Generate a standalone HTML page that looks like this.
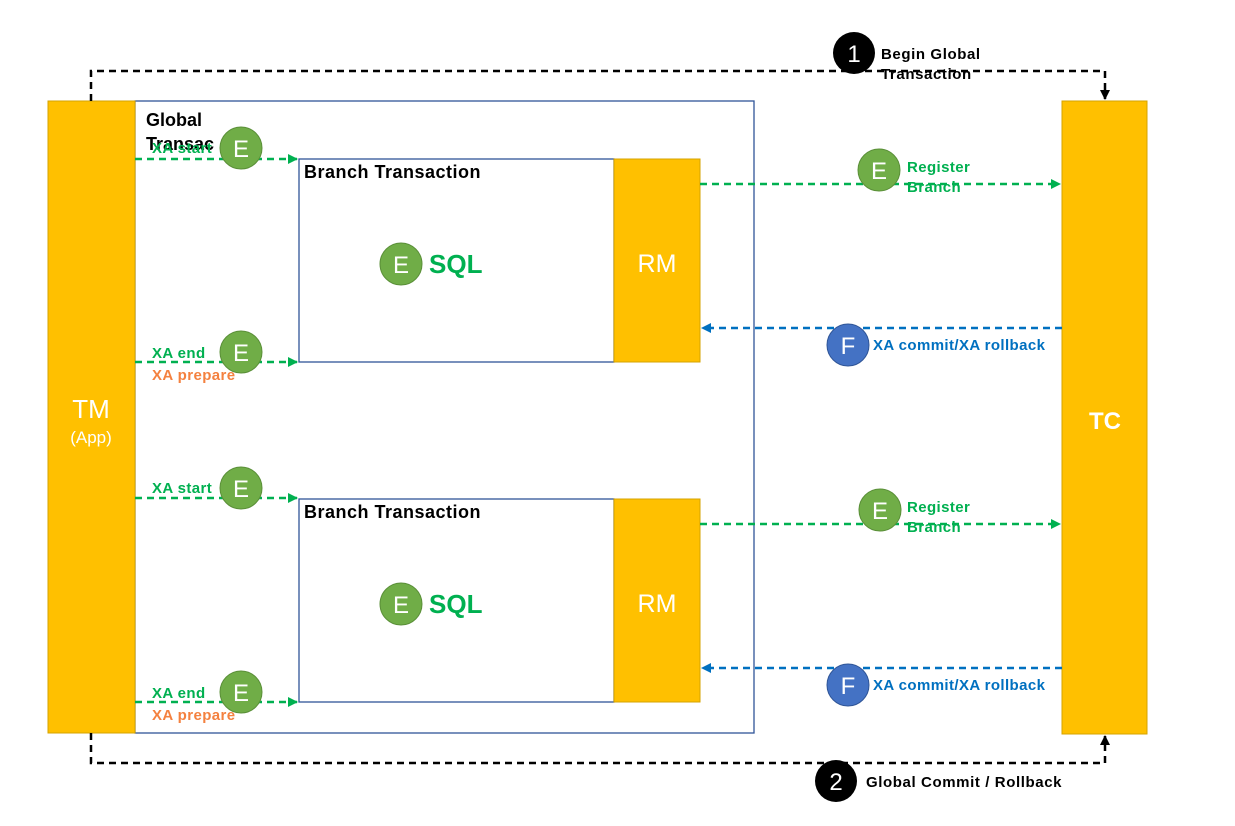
<!DOCTYPE html>
<html><head><meta charset="utf-8"><style>
html,body{margin:0;padding:0;background:#fff;}
svg{display:block;font-family:"Liberation Sans",Arial,sans-serif;}
</style></head><body>
<svg width="1235" height="826" viewBox="0 0 1235 826" xmlns="http://www.w3.org/2000/svg">
<defs>
<marker id="ag" markerWidth="10" markerHeight="10" refX="9" refY="5" orient="auto" markerUnits="userSpaceOnUse"><path d="M0,0 L10,5 L0,10 z" fill="#00b050"/></marker>
<marker id="ab" markerWidth="10" markerHeight="10" refX="9" refY="5" orient="auto" markerUnits="userSpaceOnUse"><path d="M0,0 L10,5 L0,10 z" fill="#0070c0"/></marker>
<marker id="ak" markerWidth="10" markerHeight="10" refX="9" refY="5" orient="auto" markerUnits="userSpaceOnUse"><path d="M0,0 L10,5 L0,10 z" fill="#000"/></marker>
</defs>
<rect x="135" y="101" width="619" height="632" fill="#fff" stroke="#2f5597" stroke-width="1.3"/>
<rect x="48" y="101" width="87" height="632" fill="#ffc000" stroke="#d6a300" stroke-width="1"/>
<text x="91" y="418" font-size="26" fill="#fff" text-anchor="middle">TM</text>
<text x="91" y="443" font-size="17" fill="#fff" text-anchor="middle">(App)</text>
<rect x="1062" y="101" width="85" height="633" fill="#ffc000" stroke="#d6a300" stroke-width="1"/>
<text x="1105" y="429" font-size="24" font-weight="bold" fill="#fff" text-anchor="middle">TC</text>
<path d="M91,101 V71 H1105 V99" fill="none" stroke="#000" stroke-width="2.5" stroke-dasharray="7,5" marker-end="url(#ak)"/>
<path d="M91,733 V763 H1105 V736" fill="none" stroke="#000" stroke-width="2.5" stroke-dasharray="7,5" marker-end="url(#ak)"/>
<circle cx="854" cy="53" r="21" fill="#000"/><text x="854" y="62" font-size="24" fill="#fff" text-anchor="middle">1</text>
<g font-size="15" font-weight="bold" letter-spacing="0.6">
<text x="881" y="59" fill="#000">Begin Global</text>
<text x="881" y="79" fill="#000">Transaction</text>
</g>
<circle cx="836" cy="781" r="21" fill="#000"/><text x="836" y="790" font-size="24" fill="#fff" text-anchor="middle">2</text>
<text x="866" y="787" font-size="15" font-weight="bold" fill="#000" letter-spacing="0.6">Global Commit / Rollback</text>
<text x="146" y="126" font-size="18" font-weight="bold" fill="#000">Global</text>
<text x="146" y="150" font-size="18" font-weight="bold" fill="#000">Transac</text>

<g>
<rect x="299" y="159" width="315" height="203" fill="#fff" stroke="#2f5597" stroke-width="1.3"/>
<rect x="614" y="159" width="86" height="203" fill="#ffc000" stroke="#d6a300" stroke-width="1"/>
<text x="304" y="178" font-size="18" font-weight="bold" fill="#000" letter-spacing="0.5">Branch Transaction</text>
<text x="657" y="272" font-size="25" fill="#fff" text-anchor="middle">RM</text>
<circle cx="401" cy="264" r="21" fill="#70ad47" stroke="#5a8f38"/><text x="401" y="273" font-size="24" fill="#fff" text-anchor="middle">E</text>
<text x="429" y="273" font-size="26" font-weight="bold" fill="#00b050">SQL</text>
</g>
<g transform="translate(0,340)">
<rect x="299" y="159" width="315" height="203" fill="#fff" stroke="#2f5597" stroke-width="1.3"/>
<rect x="614" y="159" width="86" height="203" fill="#ffc000" stroke="#d6a300" stroke-width="1"/>
<text x="304" y="178" font-size="18" font-weight="bold" fill="#000" letter-spacing="0.5">Branch Transaction</text>
<text x="657" y="272" font-size="25" fill="#fff" text-anchor="middle">RM</text>
<circle cx="401" cy="264" r="21" fill="#70ad47" stroke="#5a8f38"/><text x="401" y="273" font-size="24" fill="#fff" text-anchor="middle">E</text>
<text x="429" y="273" font-size="26" font-weight="bold" fill="#00b050">SQL</text>
</g>

<g stroke="#00b050" stroke-width="2.5" stroke-dasharray="7,5" fill="none">
<path d="M135,159 H297" marker-end="url(#ag)"/>
<path d="M135,362 H297" marker-end="url(#ag)"/>
<path d="M135,498 H297" marker-end="url(#ag)"/>
<path d="M135,702 H297" marker-end="url(#ag)"/>
<path d="M700,184 H1060" marker-end="url(#ag)"/>
<path d="M700,524 H1060" marker-end="url(#ag)"/>
</g>
<g stroke="#0070c0" stroke-width="2.5" stroke-dasharray="7,5" fill="none">
<path d="M1062,328 H702" marker-end="url(#ab)"/>
<path d="M1062,668 H702" marker-end="url(#ab)"/>
</g>
<g font-size="15" font-weight="bold" letter-spacing="0.4">
<text x="152" y="153" fill="#00b050">XA start</text>
<text x="152" y="358" fill="#00b050">XA end</text>
<text x="152" y="380" fill="#f4813f">XA prepare</text>
<text x="152" y="493" fill="#00b050">XA start</text>
<text x="152" y="698" fill="#00b050">XA end</text>
<text x="152" y="720" fill="#f4813f">XA prepare</text>
<text x="907" y="172" fill="#00b050">Register</text>
<text x="907" y="192" fill="#00b050">Branch</text>
<text x="907" y="512" fill="#00b050">Register</text>
<text x="907" y="532" fill="#00b050">Branch</text>
<text x="873" y="350" fill="#0070c0">XA commit/XA rollback</text>
<text x="873" y="690" fill="#0070c0">XA commit/XA rollback</text>
</g>
<g font-size="24" fill="#fff" text-anchor="middle">
<circle cx="241" cy="148" r="21" fill="#70ad47" stroke="#5a8f38"/><text x="241" y="157">E</text>
<circle cx="241" cy="352" r="21" fill="#70ad47" stroke="#5a8f38"/><text x="241" y="361">E</text>
<circle cx="241" cy="488" r="21" fill="#70ad47" stroke="#5a8f38"/><text x="241" y="497">E</text>
<circle cx="241" cy="692" r="21" fill="#70ad47" stroke="#5a8f38"/><text x="241" y="701">E</text>
<circle cx="879" cy="170" r="21" fill="#70ad47" stroke="#5a8f38"/><text x="879" y="179">E</text>
<circle cx="880" cy="510" r="21" fill="#70ad47" stroke="#5a8f38"/><text x="880" y="519">E</text>
<circle cx="848" cy="345" r="21" fill="#4472c4" stroke="#2f5597"/><text x="848" y="354">F</text>
<circle cx="848" cy="685" r="21" fill="#4472c4" stroke="#2f5597"/><text x="848" y="694">F</text>
</g>
</svg>
</body></html>
